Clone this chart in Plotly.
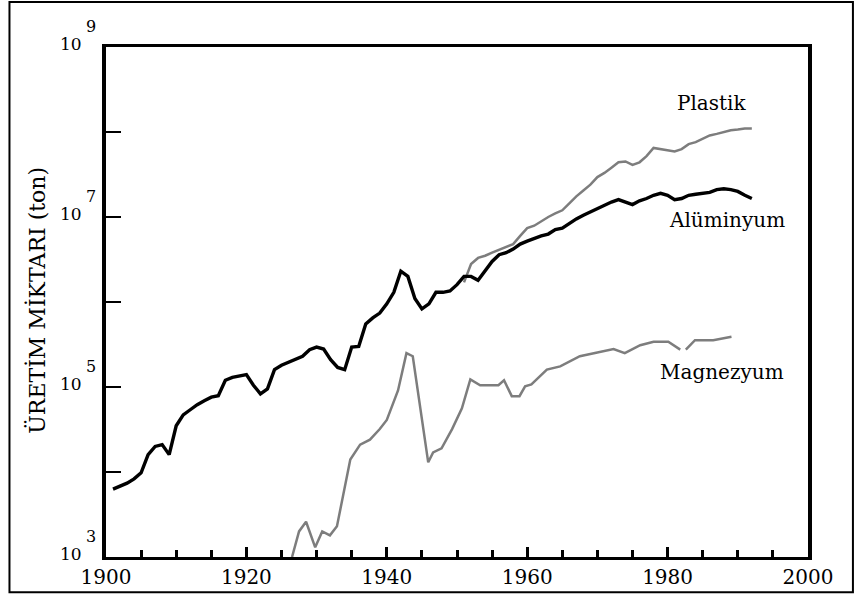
import math
import plotly.graph_objects as go

# ---- data ----
al_years = [1901, 1903, 1904, 1905, 1906, 1907, 1908, 1909, 1910, 1911, 1912, 1913, 1914, 1915,
            1916, 1917, 1918, 1919, 1920, 1921, 1922, 1923, 1924, 1925, 1926, 1927, 1928, 1929,
            1930, 1931, 1932, 1933, 1934, 1935, 1936, 1937, 1938, 1939, 1940, 1941, 1942, 1943,
            1944, 1945, 1946, 1947, 1948, 1949, 1950, 1951, 1952, 1953, 1954, 1955, 1956, 1957,
            1958, 1959, 1960, 1961, 1962, 1963, 1964, 1965, 1966, 1967, 1968, 1969, 1970, 1971,
            1972, 1973, 1974, 1975, 1976, 1977, 1978, 1979, 1980, 1981, 1982, 1983, 1984, 1985,
            1986, 1987, 1988, 1989, 1990, 1991, 1992]
al_tons = [6.3e3, 7.4e3, 8.3e3, 9.8e3, 1.6e4, 2.0e4, 2.1e4, 1.6e4, 3.5e4, 4.7e4, 5.4e4, 6.2e4, 6.9e4, 7.6e4,
           7.9e4, 1.2e5, 1.3e5, 1.35e5, 1.4e5, 1.05e5, 8.3e4, 9.5e4, 1.6e5, 1.8e5, 1.95e5, 2.1e5, 2.3e5, 2.75e5,
           2.95e5, 2.8e5, 2.1e5, 1.7e5, 1.6e5, 2.95e5, 3.0e5, 5.5e5, 6.5e5, 7.4e5, 9.5e5, 1.3e6, 2.3e6, 2.0e6,
           1.1e6, 8.3e5, 9.5e5, 1.3e6, 1.3e6, 1.35e6, 1.6e6, 2.0e6, 2.0e6, 1.8e6, 2.3e6, 3.0e6, 3.6e6, 3.8e6,
           4.2e6, 4.8e6, 5.2e6, 5.6e6, 6.0e6, 6.3e6, 7.1e6, 7.4e6, 8.5e6, 9.5e6, 1.05e7, 1.15e7, 1.26e7, 1.38e7,
           1.5e7, 1.6e7, 1.5e7, 1.4e7, 1.55e7, 1.65e7, 1.8e7, 1.9e7, 1.8e7, 1.6e7, 1.65e7, 1.8e7, 1.85e7, 1.9e7,
           1.95e7, 2.1e7, 2.15e7, 2.1e7, 2.0e7, 1.8e7, 1.65e7]

pl_years = [1951, 1952, 1953, 1954, 1955, 1956, 1957, 1958, 1959, 1960, 1961, 1962, 1963, 1964,
            1965, 1966, 1967, 1968, 1969, 1970, 1971, 1972, 1973, 1974, 1975, 1976, 1977, 1978,
            1979, 1980, 1981, 1982, 1983, 1984, 1985, 1986, 1987, 1988, 1989, 1990, 1991, 1992]
pl_tons = [1.7e6, 2.8e6, 3.3e6, 3.5e6, 3.8e6, 4.1e6, 4.4e6, 4.8e6, 6.0e6, 7.4e6, 7.9e6, 8.9e6, 1.0e7, 1.1e7,
           1.2e7, 1.45e7, 1.75e7, 2.05e7, 2.4e7, 2.95e7, 3.3e7, 3.8e7, 4.4e7, 4.5e7, 4.1e7, 4.4e7, 5.2e7, 6.5e7,
           6.3e7, 6.0e7, 5.9e7, 6.3e7, 7.2e7, 7.6e7, 8.3e7, 9.1e7, 9.5e7, 1.0e8, 1.05e8, 1.07e8, 1.1e8, 1.1e8]

mg_years = [1926.5, 1927.5, 1928.5, 1929.8, 1930.8, 1931.9, 1932.9, 1933.8, 1934.8, 1936.2, 1937.6,
            1939.0, 1940.0, 1941.6, 1942.8, 1943.7, 1945.9, 1946.6, 1947.8, 1949.3, 1950.7, 1951.9,
            1953.3, 1955.9, 1956.7, 1957.8, 1958.9, 1959.7, 1960.6, 1962.8, 1964.7, 1967.5, 1970.4,
            1972.3, 1973.9, 1976.1, 1978.0, 1980.1, 1981.8, None, 1982.6, 1983.9, 1986.5, 1989.1]
mg_tons = [1.0e3, 2.0e3, 2.6e3, 1.3e3, 2.0e3, 1.8e3, 2.3e3, 5.2e3, 1.4e4, 2.1e4, 2.4e4,
           3.2e4, 4.1e4, 9.1e4, 2.5e5, 2.3e5, 1.3e4, 1.7e4, 1.9e4, 3.2e4, 5.6e4, 1.23e5,
           1.05e5, 1.05e5, 1.2e5, 7.8e4, 7.8e4, 1.02e5, 1.07e5, 1.6e5, 1.75e5, 2.3e5, 2.6e5,
           2.8e5, 2.5e5, 3.1e5, 3.4e5, 3.4e5, 2.75e5, None, 2.75e5, 3.55e5, 3.55e5, 3.9e5]

series_names = ["Plastik", "Alüminyum", "Magnezyum"]
label_years = [1986.2, 1988.5, 1987.8]
label_tons = [2.2e8, 9.1e6, 1.5e5]

x_tick_vals = [1900, 1920, 1940, 1960, 1980, 2000]
x_tick_text = ["1900", "1920", "1940", "1960", "1980", "2000"]
y_tick_vals = [1e3, 1e4, 1e5, 1e6, 1e7, 1e8, 1e9]
y_label_exps = [3, 5, 7, 9]
y_title = "ÜRETİM MİKTARI (ton)"

FONT = "DejaVu Serif"

fig = go.Figure()
fig.add_trace(go.Scatter(x=mg_years, y=mg_tons, mode="lines", connectgaps=False,
                         line=dict(color="#7d7d7d", width=2.5), name="Magnezyum"))
fig.add_trace(go.Scatter(x=pl_years, y=pl_tons, mode="lines",
                         line=dict(color="#7d7d7d", width=2.5), name="Plastik"))
fig.add_trace(go.Scatter(x=al_years, y=al_tons, mode="lines",
                         line=dict(color="#000000", width=3.4), name="Alüminyum"))

annotations = []
for name, xv, yv in zip(series_names, label_years, label_tons):
    annotations.append(dict(x=xv, y=math.log10(yv), xref="x", yref="y", text=name,
                            showarrow=False, xanchor="center", yanchor="middle",
                            font=dict(family=FONT, size=20, color="#000")))
for e in y_label_exps:
    annotations.append(dict(x=-0.032, y=e, xref="paper", yref="y", text="10",
                            showarrow=False, xanchor="right", yanchor="middle", yshift=3,
                            font=dict(family=FONT, size=17, color="#000")))
    annotations.append(dict(x=-0.031, y=e, xref="paper", yref="y", text=str(e),
                            showarrow=False, xanchor="left", yanchor="middle", yshift=21,
                            font=dict(family=FONT, size=16, color="#000")))
annotations.append(dict(x=-0.098, y=0.503, xref="paper", yref="paper", text=y_title,
                        showarrow=False, textangle=-90, xanchor="center", yanchor="middle",
                        font=dict(family=FONT, size=22, color="#000")))

fig.update_layout(
    width=854, height=601,
    margin=dict(l=106, r=46, t=47, b=39),
    plot_bgcolor="white", paper_bgcolor="white",
    showlegend=False,
    font=dict(family=FONT, color="#000"),
    annotations=annotations,
    shapes=[dict(type="rect", xref="paper", yref="paper", x0=-0.1375, x1=1.064,
                 y0=-0.069, y1=1.088, line=dict(color="#000", width=2), layer="below")],
)
fig.update_xaxes(range=[1900, 2000], showgrid=False, zeroline=False,
                 showline=True, linecolor="#000", linewidth=3, mirror=True,
                 tickmode="array", tickvals=x_tick_vals, ticktext=x_tick_text,
                 ticks="inside", ticklen=10, tickwidth=3, tickcolor="#000",
                 tickfont=dict(family=FONT, size=20, color="#000"),
                 minor=dict(dtick=5, ticks="inside", ticklen=7, tickwidth=3, tickcolor="#000", showgrid=False))
fig.update_yaxes(type="log", range=[3, 9], showgrid=False, zeroline=False,
                 showline=True, linecolor="#000", linewidth=4, mirror=True,
                 tickmode="array", tickvals=y_tick_vals, ticktext=[""] * len(y_tick_vals),
                 ticks="inside", ticklen=15, tickwidth=2, tickcolor="#000")

fig.write_html("out.html")
